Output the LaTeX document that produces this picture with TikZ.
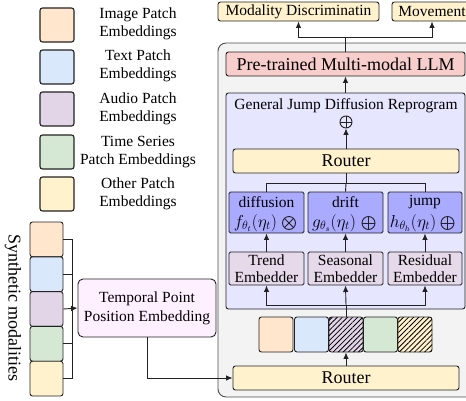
\documentclass[tikz,border=0pt]{standalone}
\usepackage{fontspec}
\setmainfont{Liberation Serif}
\usetikzlibrary{arrows.meta,patterns.meta}
\definecolor{cimg}{HTML}{FFE6CC}
\definecolor{ctxt}{HTML}{DAE8FC}
\definecolor{caud}{HTML}{E1D5E7}
\definecolor{cts}{HTML}{D5E8D4}
\definecolor{coth}{HTML}{FFF2CC}
\definecolor{cllm}{HTML}{F8CECC}
\definecolor{crep}{HTML}{E6E6FF}
\definecolor{cdif}{HTML}{AAAAFF}
\definecolor{cemb}{HTML}{E6D9EA}
\definecolor{cout}{HTML}{F3F3F3}
\definecolor{ctppe}{HTML}{FFF0FF}
\definecolor{cline}{HTML}{222222}
\newcommand\fntA{\fontsize{15.5}{18}\selectfont}
\newcommand\fntB{\fontsize{18}{20}\selectfont}
\newcommand\fntM{\fontsize{16.5}{18}\selectfont}
\begin{document}
\begin{tikzpicture}[x=1pt,y=-1pt,
  box/.style={draw=cline, line width=0.9pt, rounded corners=2.5pt, inner sep=0pt, align=center, font=\fntA},
  legbox/.style={box, line width=1.1pt, minimum width=34pt, minimum height=34pt},
  patch/.style={box, minimum width=34pt, minimum height=35pt},
  hatched/.style={postaction={pattern={Lines[angle=45,distance=3.6pt,line width=0.8pt]}}},
  arr/.style={draw=cline, line width=0.9pt, -{Latex[length=6.5pt,width=5.5pt]}},
  ln/.style={draw=cline, line width=0.9pt},
  lbl/.style={inner sep=0pt, align=center, font=\fntA},
  opl/.style={circle, draw=cline, line width=0.9pt, minimum size=12pt, inner sep=0pt,
    path picture={\draw[cline,line width=0.9pt] (path picture bounding box.north) -- (path picture bounding box.south) (path picture bounding box.west) -- (path picture bounding box.east);}},
  otm/.style={circle, draw=cline, line width=0.9pt, minimum size=13pt, inner sep=0pt,
    path picture={\draw[cline,line width=0.9pt] (path picture bounding box.north west) -- (path picture bounding box.south east) (path picture bounding box.south west) -- (path picture bounding box.north east);}}
]
\useasboundingbox (0,0) rectangle (466,400);
\clip (0,0) rectangle (466,400);
\fill[white] (0,0) rectangle (466,400);

% legend
\node[legbox, fill=cimg] (l1) at (57,25) {};
\node[legbox, fill=ctxt] (l2) at (57,67) {};
\node[legbox, fill=caud] (l3) at (57,109) {};
\node[legbox, fill=cts] (l4) at (57,152) {};
\node[legbox, fill=coth] (l5) at (57,194) {};
\node[lbl] (t1) at (138,24) {Image Patch\\Embeddings};
\node[lbl] (t2) at (138,66) {Text Patch\\Embeddings};
\node[lbl] (t3) at (138,109) {Audio Patch\\Embeddings};
\node[lbl] (t4) at (138,152) {Time Series\\Patch Embeddings};
\node[lbl] (t5) at (138,194) {Other Patch\\Embeddings};

% outputs
\node[box, fill=coth, minimum width=161pt, minimum height=19pt] (md) at (298.5,11.5) {Modality Discriminatin};
\node[box, fill=coth, minimum width=80pt, minimum height=19pt] (mv) at (432,11.5) {Movement};

% outer container
\draw[draw=cline!80, line width=0.9pt, fill=cout, rounded corners=8pt] (218,43) rectangle (485,397);

\node[box, fill=cllm, minimum width=239pt, minimum height=24pt, font=\fntB] (llm) at (345.5,64) {Pre-trained Multi-modal LLM};
\node[box, fill=crep, minimum width=239pt, minimum height=216pt] (rep) at (345.5,201) {};
\node[lbl] (title) at (346,106) {General Jump Diffusion Reprogram};
\node[opl] (op) at (346,122) {};
\node[box, fill=coth, minimum width=226pt, minimum height=24pt, font=\fntB] (r1) at (346,161) {Router};

\node[box, fill=cdif, minimum width=75pt, minimum height=41pt, rounded corners=1.5pt] (dif) at (266.5,212.5) {};
\node[box, fill=cdif, minimum width=75pt, minimum height=41pt, rounded corners=1.5pt] (dri) at (345.5,212.5) {};
\node[box, fill=cdif, minimum width=74pt, minimum height=41pt, rounded corners=1.5pt] (jmp) at (425,212.5) {};
\node[lbl] (dift) at (266.5,202) {diffusion};
\node[lbl] (drit) at (345.5,202) {drift};
\node[lbl] (jmpt) at (425,202) {jump};
\node[lbl, font=\fntM] (difm) at (255.5,223) {$f_{\theta_t}(\eta_t)$};
\node[lbl, font=\fntM] (drim) at (334,223) {$g_{\theta_s}(\eta_t)$};
\node[lbl, font=\fntM] (jmpm) at (413,223) {$h_{\theta_h}(\eta_t)$};
\node[otm] (difo) at (289,223) {};
\node[opl, minimum size=13pt] (drio) at (368.5,223) {};
\node[opl, minimum size=13pt] (jmpo) at (447.5,223) {};

\node[box, fill=cemb, minimum width=75pt, minimum height=33pt, rounded corners=1.5pt] (e1) at (266.5,268.5) {Trend\\[-1pt]Embedder};
\node[box, fill=cemb, minimum width=75pt, minimum height=33pt, rounded corners=1.5pt] (e2) at (345.5,268.5) {Seasonal\\[-1pt]Embedder};
\node[box, fill=cemb, minimum width=74pt, minimum height=33pt, rounded corners=1.5pt] (e3) at (425,268.5) {Residual\\[-1pt]Embedder};

% patches
\node[patch, fill=cimg] (p1) at (276,334.5) {};
\node[patch, fill=ctxt] (p2) at (311.5,334.5) {};
\node[patch, fill=caud, hatched] (p3) at (346,334.5) {};
\node[patch, fill=cts] (p4) at (380.5,334.5) {};
\node[patch, fill=coth, hatched] (p5) at (415,334.5) {};
\node[box, fill=coth, minimum width=226pt, minimum height=24pt, font=\fntB] (r2) at (346,378) {Router};

% synthetic modalities
\node[box, fill=cimg, minimum width=33pt, minimum height=34.8pt] (s1) at (46.5,239.4) {};
\node[box, fill=ctxt, minimum width=33pt, minimum height=34.8pt] (s2) at (46.5,274.2) {};
\node[box, fill=caud, minimum width=33pt, minimum height=34.8pt] (s3) at (46.5,309) {};
\node[box, fill=cts, minimum width=33pt, minimum height=34.8pt] (s4) at (46.5,343.8) {};
\node[box, fill=coth, minimum width=33pt, minimum height=34.8pt] (s5) at (46.5,378.6) {};
\node[lbl, font=\fntB, rotate=-90] (syn) at (13,308) {Synthetic modalities};
\node[box, fill=ctppe, rounded corners=5pt, minimum width=138pt, minimum height=58pt] (tp) at (147,308) {Temporal Point\\[1pt]Position Embedding};

% connectors: top
\draw[ln] (llm.north) -- ++(0,-14) coordinate (jt);
\draw[arr] (jt) -| (md.south);
\draw[arr] (jt) -| (mv.south);
\draw[arr] (rep.north) -- (llm.south);
\draw[arr] (r1.north) -- (op.south);
% router to branches
\draw[ln] (r1.south) -- ++(0,10) coordinate (jb);
\draw[ln] (jb) -| (dif.north);
\draw[ln] (jb) -| (jmp.north);
\draw[ln] (jb) -- (dri.north);
% embedders to branches
\draw[arr] (e1.north) -- (dif.south);
\draw[arr] (e2.north) -- (dri.south);
\draw[arr] (e3.north) -- (jmp.south);
% patches to embedders
\draw[ln] (p3.north) -- ++(0,-11) coordinate (je);
\draw[arr] (je) -| (e1.south);
\draw[arr] (je) -| (e3.south);
\draw[arr] (je) -- (e2.south);
\draw[arr] (r2.north) -- (p3.south);
% synthetic bracket
\coordinate (bx) at (72,0);
\draw[ln] (s1.east) -- (s1.east -| bx) -- (s5.east -| bx) -- (s5.east);
\draw[ln] (s2.east) -- (s2.east -| bx);
\draw[ln] (s4.east) -- (s4.east -| bx);
\draw[arr] (s3.east) -- (tp.west);
\draw[arr] (tp.south) |- (r2.west);
\end{tikzpicture}
\end{document}
